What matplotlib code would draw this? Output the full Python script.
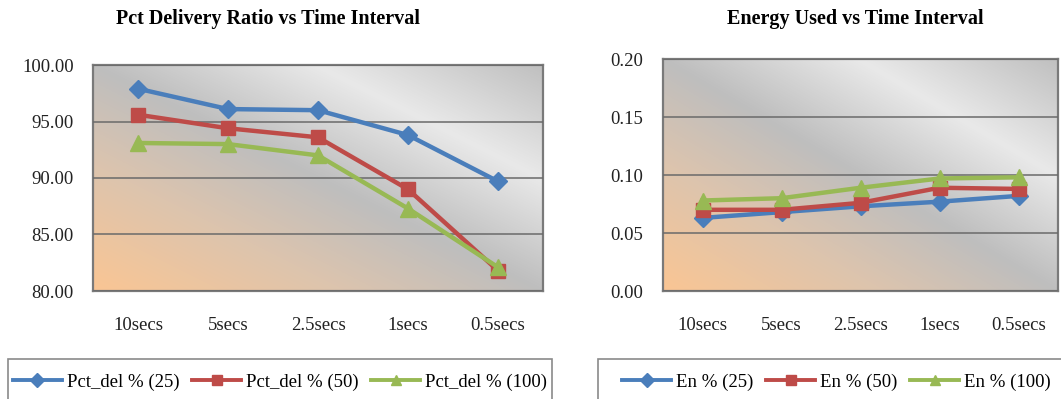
import numpy as np
import matplotlib
matplotlib.use("Agg")
import matplotlib.pyplot as plt
from matplotlib.colors import LinearSegmentedColormap
from matplotlib.lines import Line2D
from matplotlib.patches import Rectangle

plt.rcParams['font.family'] = ['Liberation Serif', 'DejaVu Serif']

# Time intervals on the x axis
intervals = ["10secs", "5secs", "2.5secs", "1secs", "0.5secs"]

# Packet delivery ratio (%) for 25, 50 and 100 nodes
pct_del_25 = [97.9, 96.1, 96.0, 93.8, 89.7]
pct_del_50 = [95.6, 94.4, 93.6, 89.0, 81.8]
pct_del_100 = [93.1, 93.0, 92.0, 87.3, 82.1]

# Energy used for 25, 50 and 100 nodes
en_25 = [0.063, 0.068, 0.073, 0.077, 0.082]
en_50 = [0.070, 0.070, 0.076, 0.089, 0.088]
en_100 = [0.078, 0.080, 0.089, 0.097, 0.098]

pdr_ticks = [80.0, 85.0, 90.0, 95.0, 100.0]
en_ticks = [0.00, 0.05, 0.10, 0.15, 0.20]

BLUE = "#4a7ebb"
RED = "#be4b48"
GREEN = "#98b954"
styles = [
    dict(color=BLUE, marker="D", markersize=9.5),
    dict(color=RED, marker="s", markersize=10.5),
    dict(color=GREEN, marker="^", markersize=11),
]

W, H = 1061, 399
fig = plt.figure(figsize=(W / 100, H / 100), dpi=100)
fig.patch.set_facecolor("white")

# diagonal peach -> grey -> light -> grey fill of the plot area
grad_cmap = LinearSegmentedColormap.from_list(
    "plotfill",
    [(0.0, (250/255, 198/255, 148/255)),
     (0.28, (220/255, 196/255, 174/255)),
     (0.5, (190/255, 190/255, 190/255)),
     (0.75, (233/255, 233/255, 233/255)),
     (1.0, (192/255, 192/255, 192/255))])


def px_axes(x0, y0, x1, y1):
    return fig.add_axes([x0 / W, 1 - y1 / H, (x1 - x0) / W, (y1 - y0) / H])


def style_axes(ax, ticks, fmt):
    u = np.linspace(0, 1, 300)
    uu, vv = np.meshgrid(u, u)
    ax.imshow((uu + vv) / 2, cmap=grad_cmap, extent=[0, 1, 0, 1],
              transform=ax.transAxes, origin="lower", aspect="auto",
              zorder=0, interpolation="bilinear")
    ax.set_xlim(-0.5, len(intervals) - 0.5)
    ax.set_ylim(ticks[0], ticks[-1])
    ax.set_yticks(ticks)
    ax.set_yticklabels([fmt.format(t) for t in ticks])
    ax.set_xticks(range(len(intervals)))
    ax.set_xticklabels(intervals)
    ax.tick_params(length=0, labelsize=13.5, colors="#222222")
    ax.tick_params(axis="y", pad=14)
    ax.tick_params(axis="x", pad=19)
    ax.grid(axis="y", color="#6a6a6a", linewidth=1.1, zorder=1)
    ax.set_axisbelow(False)
    for sp in ax.spines.values():
        sp.set_color("#7a7a7a")
        sp.set_linewidth(1.6)


def draw_series(ax, series):
    x = np.arange(len(intervals))
    for vals, st in zip(series, styles):
        ax.plot(x, vals, color=st["color"], linewidth=3.2, marker=st["marker"],
                markersize=st["markersize"], markeredgecolor=st["color"],
                zorder=3, solid_joinstyle="round")


def legend_box(x0, x1, labels):
    top = 1 - 359 / H
    fig.patches.append(Rectangle((x0 / W, -0.05), (x1 - x0) / W, top + 0.05,
                                 transform=fig.transFigure, facecolor="white",
                                 edgecolor="#8a8a8a", linewidth=1.2))
    handles = [Line2D([], [], color=st["color"], linewidth=2.8, marker=st["marker"],
                      markersize=st["markersize"] * 0.7, markeredgecolor=st["color"])
               for st in styles]
    fig.legend(handles, labels, loc="center", ncol=3, frameon=False,
               bbox_to_anchor=((x0 + x1) / 2 / W, 1 - 382 / H),
               fontsize=13.5, handlelength=2.6, handletextpad=0.25,
               columnspacing=0.7)


ax1 = px_axes(93, 65, 543, 291)
style_axes(ax1, pdr_ticks, "{:.2f}")
draw_series(ax1, [pct_del_25, pct_del_50, pct_del_100])
fig.text(268 / W, 1 - 19 / H, "Pct Delivery Ratio vs Time Interval",
         ha="center", va="center", fontsize=14.5, fontweight="bold")

ax2 = px_axes(663, 59, 1058, 291)
style_axes(ax2, en_ticks, "{:.2f}")
draw_series(ax2, [en_25, en_50, en_100])
fig.text(855 / W, 1 - 19 / H, "Energy Used vs Time Interval",
         ha="center", va="center", fontsize=14.5, fontweight="bold")

legend_box(8, 552, ["Pct_del % (25)", "Pct_del % (50)", "Pct_del % (100)"])
legend_box(598, 1075, ["En % (25)", "En % (50)", "En % (100)"])

fig.savefig("out.png", dpi=100)
